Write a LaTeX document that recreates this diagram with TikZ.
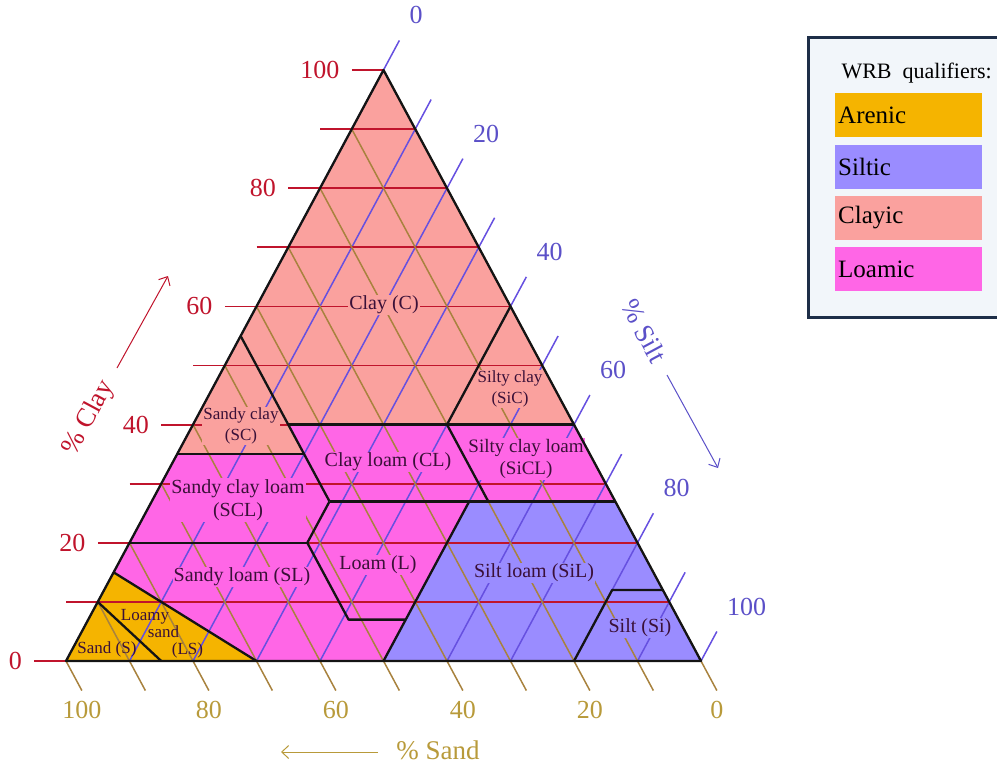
\documentclass[tikz,border=0pt]{standalone}
\usepackage{fontspec}
\setmainfont{Liberation Serif}
\usetikzlibrary{
	positioning,
	arrows.meta
}
\definecolor{arenic}{HTML}{F5B400}
\definecolor{siltic}{HTML}{9A8CFF}
\definecolor{clayic}{HTML}{FAA19E}
\definecolor{loamic}{HTML}{FF66E6}
\definecolor{clayred}{HTML}{C0142C}
\definecolor{siltblue}{HTML}{6650E0}
\definecolor{sandtan}{HTML}{A8823E}
\definecolor{sandlabel}{HTML}{B89A3A}
\definecolor{siltlabel}{HTML}{5B50C8}
\definecolor{classtext}{HTML}{3A1038}
\definecolor{legendbg}{HTML}{F2F6FA}
\definecolor{legendframe}{HTML}{1E2E48}

\begin{document}
\begin{tikzpicture}[
			x=1pt, y=1pt,
			node distance=7pt,
			border/.style={line width=2.3pt, draw=black!92, line join=round},
			clayline/.style={clayred, line width=1.8pt},
			siltline/.style={siltblue, line width=1.5pt},
			sandline/.style={sandtan, line width=1.5pt},
			region/.style={
				font=\fontsize{20}{23}\selectfont,
				align=center,
				inner sep=1pt,
				text=classtext
			},
			smallregion/.style={region, font=\fontsize{17}{21}\selectfont},
			ticklabel/.style={font=\fontsize{26}{28}\selectfont, inner sep=0pt},
			axistitle/.style={font=\fontsize{27}{29}\selectfont},
			legendkey/.style={
				minimum width=147pt,
				minimum height=44pt,
				inner sep=3pt,
				text width=141pt,
				align=left,
				font=\fontsize{25}{27}\selectfont
			},
			arrow/.style={-{Straight Barb[length=7pt,width=13pt]}, line width=1pt}
			]
			
			\useasboundingbox (0,0) rectangle (997,-766);
			
			\begin{scope}[shift={(66pt,-661pt)}, x={(6.35pt,0pt)}, y={(3.175pt,5.91pt)}]
				
				\fill[loamic] (0,0) -- (100,0) -- (0,100) -- cycle;
				\fill[clayic] (0,100) -- (0,35) -- (20,35) -- (15,40) -- (60,40) -- cycle;
				\fill[siltic] (50,0) -- (100,0) -- (73,27) -- (50,27) -- cycle;
				\fill[arenic] (0,0) -- (30,0) -- (0,15) -- cycle;
				
				\foreach \v in {0,10,...,100} {
					\draw[clayline] (-5,\v) -- ({100-\v},\v);
					\draw[siltline] (\v,0) -- (\v,{105-\v});
					\draw[sandline] ({\v+5},-5) -- (0,\v);
				}
				
				\foreach \v in {0,20,...,100} {
					\pgfmathtruncatemacro{\w}{100-\v}
					\node[ticklabel, text=clayred, anchor=east] (clay\v) at (-6.9,\v) {\v};
					\node[ticklabel, text=siltlabel, anchor=south west, xshift=10pt, yshift=16pt] (silt\v) at (\v,{105-\v}) {\v};
					\node[ticklabel, text=sandlabel, anchor=north, yshift=-10pt] (sand\w) at ({\v+5},-5) {\w};
				}
				
			\end{scope}
			
			\node[region, fill=clayic] (c) at (384,-305) {Clay (C)};
			\node[smallregion, fill=clayic] (sic) at (510,-389) {Silty clay\\(SiC)};
			\node[smallregion, fill=clayic] (sc) at (241,-426) {Sandy clay\\(SC)};
			\node[region, fill=loamic] (cl) at (388,-462) {Clay loam (CL)};
			\node[region, fill=loamic, font=\fontsize{19}{22}\selectfont] (sicl) at (526,-459) {Silty clay loam\\(SiCL)};
			\node[region, fill=loamic] (scl) at (238,-500) {Sandy clay loam\\(SCL)};
			\node[region, fill=loamic] (sl) at (242,-577) {Sandy loam (SL)};
			\node[region, fill=loamic] (l) at (378,-565) {Loam (L)};
			\node[region, fill=siltic] (sil) at (534,-573) {Silt loam (SiL)};
			\node[region, fill=siltic] (si) at (640,-628) {Silt (Si)};
			\node[smallregion, inner sep=0pt] (s) at (107,-649) {Sand (S)};
			\node[smallregion, inner sep=0pt, align=left, font=\fontsize{17}{17}\selectfont] (ls) at (162,-634)
			{Loamy\\\hspace*{27pt}sand\\\hspace*{51pt}(LS)};
			
			\begin{scope}[shift={(66pt,-661pt)}, x={(6.35pt,0pt)}, y={(3.175pt,5.91pt)}]
				\draw[border] (0,35) -- (20,35);
				\draw[border] (0,55) -- (28,27);
				\draw[border] (15,40) -- (60,40);
				\draw[border] (40,40) -- (40,60);
				\draw[border] (40,40) -- (53,27);
				\draw[border] (28,27) -- (73,27);
				\draw[border] (28,27) -- (28,20);
				\draw[border] (0,20) -- (28,20);
				\draw[border] (28,20) -- (41,7) -- (50,7);
				\draw[border] (50,0) -- (50,27);
				\draw[border] (80,0) -- (80,12) -- (88,12);
				\draw[border] (0,15) -- (30,0);
				\draw[border] (0,10) -- (15,0);
				\draw[border] (0,0) -- (100,0) -- (0,100) -- cycle;
			\end{scope}
			
			\node[axistitle, text=clayred, rotate=61.8] (claytitle) at (89,-418) {\% Clay};
			\coordinate (claytail) at (117,-368);
			\coordinate (clayhead) at (168,-276);
			\draw[arrow, clayred] (claytail) -- (clayhead);
			
			\node[axistitle, text=siltlabel, rotate=-61.8] (silttitle) at (644,-331) {\% Silt};
			\coordinate (silttail) at (667,-375);
			\coordinate (silthead) at (718,-468);
			\draw[arrow, siltlabel] (silttail) -- (silthead);
			
			\node[axistitle, text=sandlabel] (sandtitle) at (438,-750) {\% Sand};
			\coordinate (sandtail) at (378,-752);
			\coordinate (sandhead) at (281,-752);
			\draw[arrow, sandlabel] (sandtail) -- (sandhead);
			
			\draw[legendframe, line width=3pt, fill=legendbg] (808,-37) rectangle (1012,-317);
			
			\node[anchor=west, font=\fontsize{22}{24}\selectfont] (wrb) at (838,-73)
			{WRB\ \ qualifiers:};
			
			\node[legendkey, fill=arenic, anchor=north west] (karenic) at (835,-93) {Arenic};
			
			\node[legendkey, fill=siltic, below=of karenic] (ksiltic) {Siltic};
			
			\node[legendkey, fill=clayic, below=of ksiltic] (kclayic) {Clayic};
			
			\node[legendkey, fill=loamic, below=of kclayic] (kloamic) {Loamic};
			
		\end{tikzpicture}
\end{document}
